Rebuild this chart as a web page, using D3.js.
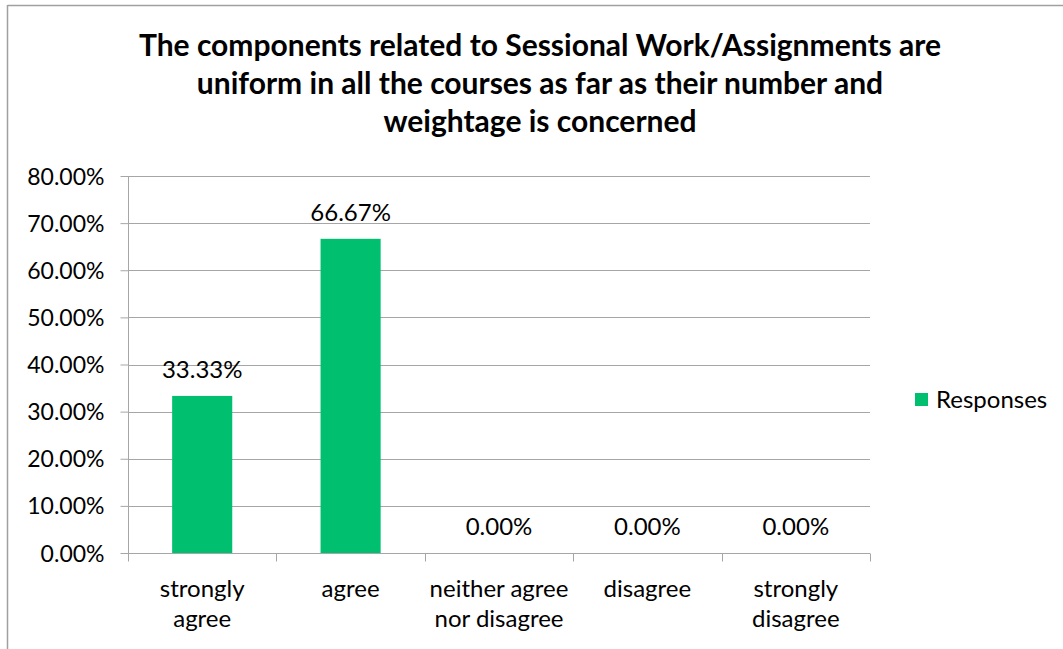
<!DOCTYPE html>
<html><head><meta charset="utf-8">
<script src="https://cdn.jsdelivr.net/npm/d3@7"></script>
<style>body{margin:0;background:#fff;} text{font-family:Lato,"Open Sans",sans-serif;}</style>
</head><body><svg id="c" width="1063" height="649"></svg>
<script>
const categories = [["strongly","agree"],["agree"],["neither agree","nor disagree"],["disagree"],["strongly","disagree"]];
const values = [0.3333, 0.6667, 0, 0, 0];
const valueLabels = ["33.33%","66.67%","0.00%","0.00%","0.00%"];
const yTicks = [0,0.1,0.2,0.3,0.4,0.5,0.6,0.7,0.8];
const titleLines = ["The components related to Sessional Work/Assignments are","uniform in all the courses as far as their number and","weightage is concerned"];
const seriesName = "Responses";

(function(){
const svg = d3.select("#c");
const pL=128, pR=870, pT=176, pB=553;
const x = d3.scaleBand().domain(d3.range(categories.length)).range([pL,pR]).padding(0);
const y = d3.scaleLinear().domain([0,0.8]).range([pB,pT]);
const grid="#a6a6a6";
const barColor="#00c070";

// border
svg.append("line").attr("x1",7.5).attr("x2",1063).attr("y1",5.5).attr("y2",5.5).attr("stroke","#a0a0a0").attr("stroke-width",1.5);
svg.append("line").attr("x1",7.5).attr("x2",7.5).attr("y1",5).attr("y2",649).attr("stroke","#a0a0a0").attr("stroke-width",1.5);

// title
svg.append("g").selectAll("text").data(titleLines).join("text")
  .attr("x",540).attr("y",(d,i)=>56+i*38).attr("text-anchor","middle")
  .attr("font-weight","bold").attr("font-size",30).attr("fill","#000").text(d=>d);

// gridlines
svg.append("g").selectAll("line").data(yTicks.slice(1)).join("line")
  .attr("x1",pL).attr("x2",pR).attr("y1",d=>Math.round(y(d))+0.5).attr("y2",d=>Math.round(y(d))+0.5)
  .attr("stroke",grid).attr("stroke-width",1);

// y axis
const ya = svg.append("g").attr("transform",`translate(${pL+0.5},0)`)
  .call(d3.axisLeft(y).tickValues(yTicks).tickFormat(d=>(d*100).toFixed(2)+"%").tickSize(8).tickPadding(16));
ya.select(".domain").attr("stroke",grid).attr("d",`M0,${pT}V${pB}`);
ya.selectAll(".tick line").attr("stroke",grid);
ya.selectAll(".tick text").attr("font-size",23).attr("fill","#000").style("font-family","Lato,'Open Sans',sans-serif").attr("dy","0.35em");

// bars
const bw = x.bandwidth()*0.405;
svg.append("g").selectAll("rect").data(values).join("rect")
  .attr("x",(d,i)=>x(i)+x.bandwidth()/2-bw/2).attr("width",bw)
  .attr("y",d=>y(d)).attr("height",d=>pB-y(d)).attr("fill",barColor);

// x axis
const xa = svg.append("g").attr("transform",`translate(0,${pB+0.5})`);
xa.append("line").attr("x1",pL).attr("x2",pR).attr("stroke",grid);
xa.selectAll("line.t").data(d3.range(categories.length+1)).join("line").attr("class","t")
  .attr("x1",i=>Math.round(pL+i*x.step())+0.5).attr("x2",i=>Math.round(pL+i*x.step())+0.5)
  .attr("y1",0).attr("y2",8).attr("stroke",grid);
xa.selectAll("text").data(categories).join("text")
  .attr("text-anchor","middle").attr("font-size",24).attr("fill","#000")
  .attr("transform",(d,i)=>`translate(${x(i)+x.bandwidth()/2},0)`)
  .selectAll("tspan").data(d=>d).join("tspan").attr("x",0).attr("y",(d,j)=>43+j*30).text(d=>d);

// value labels
svg.append("g").selectAll("text").data(values).join("text")
  .attr("x",(d,i)=>x(i)+x.bandwidth()/2).attr("y",d=>y(d)-18)
  .attr("text-anchor","middle").attr("font-size",24).attr("fill","#000")
  .text((d,i)=>valueLabels[i]);

// legend
svg.append("rect").attr("x",915).attr("y",393).attr("width",13).attr("height",13).attr("fill",barColor);
svg.append("text").attr("x",936).attr("y",408).attr("font-size",24).attr("fill","#000").text(seriesName);
})();
</script></body></html>
